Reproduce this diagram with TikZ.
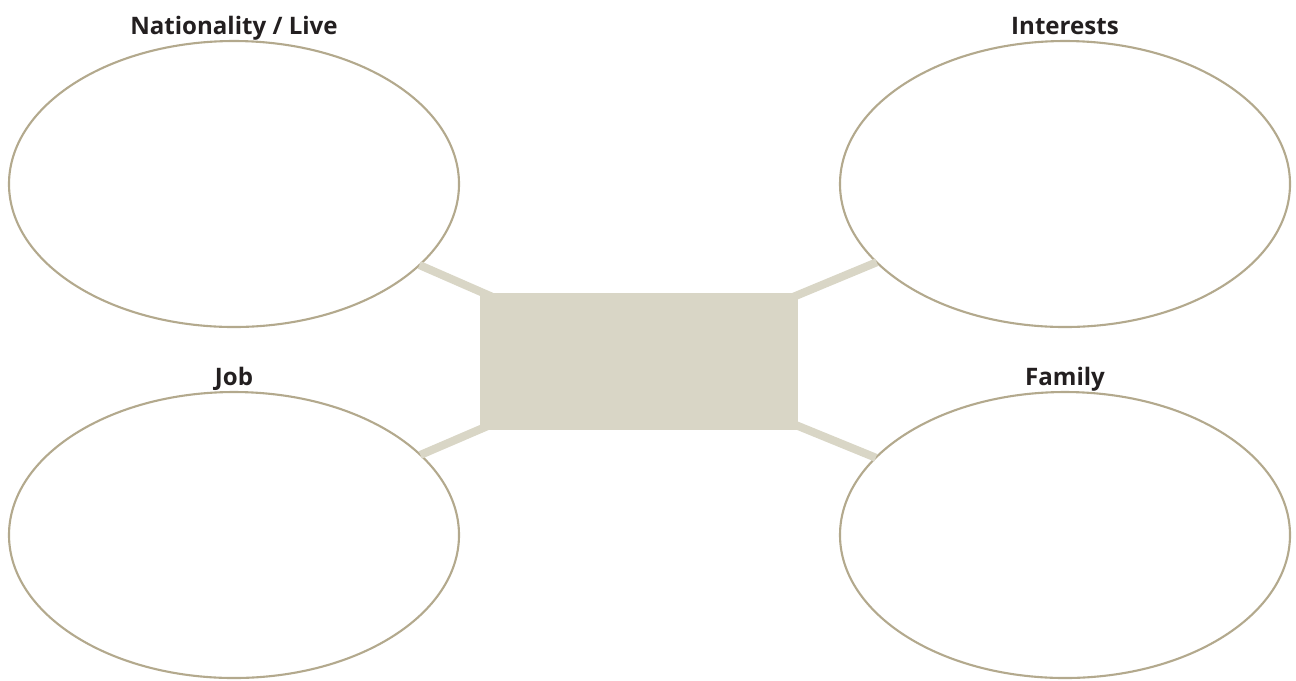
\documentclass[tikz,border=0pt]{standalone}
\usepackage{fontspec}
\setsansfont{Open Sans}
\usetikzlibrary{shapes.geometric,positioning}
\definecolor{rim}{HTML}{B3A98D}
\definecolor{sand}{HTML}{D9D6C6}
\definecolor{ink}{HTML}{231F20}
\tikzset{
    topic/.style={
        ellipse,draw=rim,line width=.6pt,
        fill=white,outer sep=0pt,
        minimum width=4.5cm,minimum height=2.86cm
    },
    topic label/.style={
        text=ink,inner sep=1pt,
        text height=1.6ex,text depth=.3ex,
        font=\sffamily\bfseries\fontsize{6.85}{8}\selectfont
    },
    hub/.style={fill=sand,outer sep=0pt,minimum width=3.18cm,minimum height=1.37cm},
    spoke/.style={sand,line width=2.3pt}
}

\begin{document}
\begin{tikzpicture}
\useasboundingbox (0,0) rectangle (12.96,-6.8);
\coordinate (mid) at (6.39,-3.61);
\node[topic] (nat) at (2.34,-1.84) {};
\node[topic] (interests) at (10.65,-1.84) {};
\node[topic] (job) at (2.34,-5.35) {};
\node[topic] (family) at (10.65,-5.35) {};
\foreach \t in {nat,interests,job,family}
    \draw[spoke] (\t) -- (mid);
\node[hub] (center) at (mid) {};
\node[topic label,above=-.5pt of nat] (nat_lbl) {Nationality / Live};
\node[topic label,above=-.5pt of interests] (interests_lbl) {Interests};
\node[topic label,above=-.5pt of job] (job_lbl) {Job};
\node[topic label,above=-.5pt of family] (family_lbl) {Family};
\end{tikzpicture}
\end{document}
